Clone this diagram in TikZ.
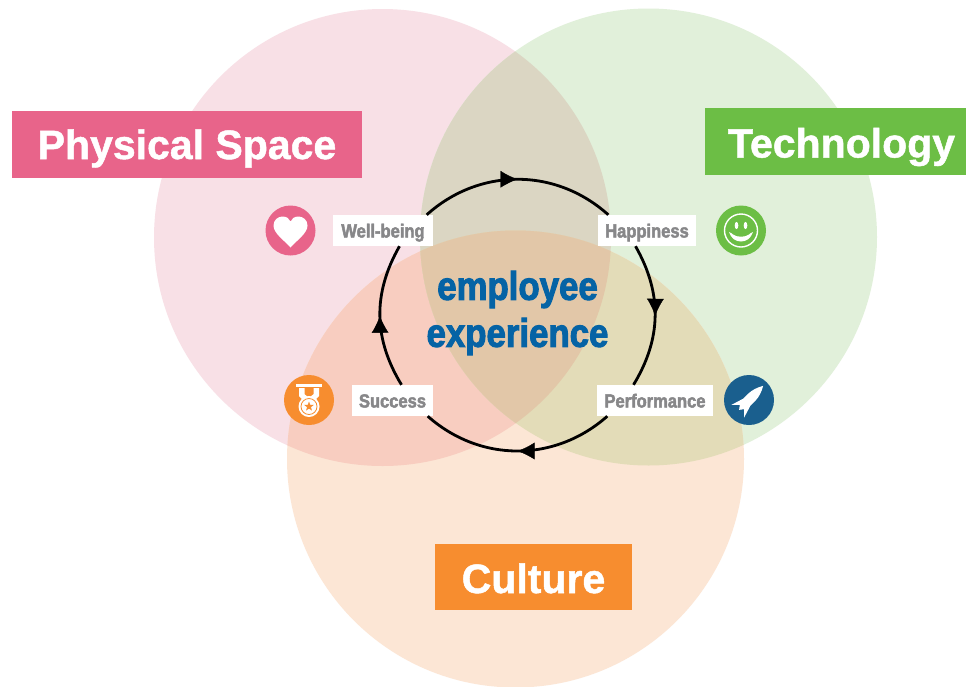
\documentclass[tikz,border=0pt]{standalone}
\usepackage{fontspec}
\usepackage{xcolor}
\setmainfont{Liberation Sans}
\newfontfamily\condfont[FakeStretch=0.87, BoldFeatures={FakeStretch=0.87, FakeBold=2.4}]{Liberation Sans}
\newfontfamily\heavyfont[BoldFeatures={FakeBold=1.2}]{Liberation Sans}
\definecolor{pinkbox}{RGB}{232, 100, 138}
\definecolor{greenbox}{RGB}{108, 190, 69}
\definecolor{orangebox}{RGB}{247, 141, 47}
\definecolor{pinkfill}{RGB}{248, 224, 230}
\definecolor{greenfill}{RGB}{225, 240, 218}
\definecolor{orangefill}{RGB}{252, 230, 213}
\definecolor{pinkgreen}{RGB}{219, 214, 195}
\definecolor{pinkorange}{RGB}{248, 205, 192}
\definecolor{greenorange}{RGB}{227, 220, 184}
\definecolor{centerfill}{RGB}{226, 199, 168}
\definecolor{rocketblue}{RGB}{26, 95, 142}
\definecolor{titleblue}{RGB}{5, 99, 165}
\definecolor{labelgray}{RGB}{135, 135, 137}
\usetikzlibrary{arrows.meta, positioning, decorations.markings, shapes.geometric}

\begin{document}
\begin{tikzpicture}[
        x=1pt, y=-1pt,
        venn/.style={circle, minimum size=457pt, inner sep=0pt},
        titlebox/.style={rectangle, inner sep=0pt, minimum height=66.5pt, text height=32pt, text depth=0pt, text=white, font=\heavyfont\fontsize{41}{41}\selectfont\bfseries},
        statelabel/.style={rectangle, fill=white, inner sep=0pt, minimum height=31pt, text height=14pt, text depth=0pt, text=labelgray, font=\condfont\fontsize{19}{19}\selectfont\bfseries},
        icon/.style={circle, minimum size=50pt, inner sep=0pt},
        ringarrow/.style={line width=2.8pt, decoration={markings, mark=at position #1 with {\arrow[line width=0.4pt]{Latex[length=17pt,width=17pt]}}}, postaction={decorate}}
    ]
        \useasboundingbox (0,0) rectangle (966,686);
        \fill[white] (0,0) rectangle (966,686);

        % Circles
        \node[venn, fill=pinkfill] (physical) at (382.5,237.5) {};
        \node[venn, fill=greenfill] (technology) at (648.5,237) {};
        \node[venn, fill=orangefill] (culture) at (515.5,459) {};

        % Overlaps
        \begin{scope}
            \clip (382.5,237.5) circle (228.5);
            \fill[pinkorange] (515.5,459) circle (228.5);
            \fill[pinkgreen] (648.5,237) circle (228.5);
            \clip (648.5,237) circle (228.5);
            \fill[centerfill] (515.5,459) circle (228.5);
        \end{scope}
        \begin{scope}
            \clip (648.5,237) circle (228.5);
            \clip (515.5,459) circle (228.5);
            \fill[greenorange] (0,0) rectangle (966,686);
            \clip (382.5,237.5) circle (228.5);
            \fill[centerfill] (0,0) rectangle (966,686);
        \end{scope}

        % Titles
        \node[titlebox, text height=29pt, fill=pinkbox, minimum width=350pt] (physicaltitle) at (187,144.5) {Physical Space};
        \node[titlebox, fill=greenbox, minimum width=261pt] (technologytitle) at (835.5,141.5) {\hspace*{12pt}Technology};
        \node[titlebox, fill=orangebox, minimum width=197pt] (culturetitle) at (533.5,577) {Culture};

        % Labels
        \node[statelabel, minimum width=100pt] (wellbeing) at (383,230.5) {Well-being};
        \node[statelabel, minimum width=98pt] (happiness) at (647,230.5) {Happiness};
        \node[statelabel, minimum width=116pt] (performance) at (655,400.5) {Performance};
        \node[statelabel, minimum width=81pt] (success) at (392.5,400.5) {Success};

        % Ring
        \draw[ringarrow=0.5] ([xshift=-6.5pt]wellbeing.north east) to[bend left=42] ([xshift=10.5pt]happiness.north west);
        \draw[ringarrow=0.5] (happiness.south -| 635.5,0) to[bend left=30.5] (performance.north -| 633.5,0);
        \draw[ringarrow=0.5] ([xshift=10.5pt]performance.south west) to[bend left=41.5] ([xshift=-5.5pt]success.south east);
        \draw[ringarrow=0.5] (success.north -| 401.5,0) to[bend left=30.5] (wellbeing.south -| 399.5,0);

        \node[align=center, text=titleblue, font=\condfont\fontsize{40}{47}\selectfont\bfseries] (title) at (517.5,313) {employee\\experience};

        % Icons
        \node[icon, fill=pinkbox] (hearticon) at (290.5,230.5) {};
        \node[icon, fill=greenbox] (smileicon) at (741,230.5) {};
        \node[icon, fill=orangebox] (medalicon) at (309,400) {};
        \node[icon, fill=rocketblue] (rocketicon) at (749,400) {};

        \begin{scope}[shift={(hearticon.center)}]
            \fill[white] (0,17) .. controls (-6,10) and (-17,3) .. (-17,-5)
                .. controls (-17,-11) and (-12,-14) .. (-8,-14)
                .. controls (-4,-14) and (-1,-12) .. (0,-9)
                .. controls (1,-12) and (4,-14) .. (8,-14)
                .. controls (12,-14) and (17,-11) .. (17,-5)
                .. controls (17,3) and (6,10) .. (0,17) -- cycle;
        \end{scope}

        \begin{scope}[shift={(smileicon.center)}]
            \draw[white, line width=1.4pt] (0,0) circle (16.5);
            \fill[white] (-4.5,-5) ellipse (1.8 and 3.6);
            \fill[white] (4.5,-5) ellipse (1.8 and 3.6);
            \fill[white] (-12,1.5) .. controls (-9,2.5) and (-9,3.5) .. (-8,4)
                .. controls (-4,7) and (4,7) .. (8,4)
                .. controls (9,3.5) and (9,2.5) .. (12,1.5)
                .. controls (10,8) and (5,11) .. (0,11)
                .. controls (-5,11) and (-10,8) .. (-12,1.5) -- cycle;
        \end{scope}

        \begin{scope}[shift={(medalicon.center)}]
            \fill[white] (-13,-16.5) rectangle (13,-13.5);
            \fill[white] (-10,-12) -- (10,-12) -- (10,-4) -- (4,2) -- (-4,2) -- (-10,-4) -- cycle;
            \fill[orangebox] (-4.5,-12) -- (4.5,-12) -- (4.5,-6) -- (0,-2.5) -- (-4.5,-6) -- cycle;
            \fill[white] (0,6.5) circle (10.5);
            \draw[orangebox, line width=0.8pt] (0,6.5) circle (8);
            \node[star, star points=5, star point ratio=2.4, fill=orangebox, minimum size=10pt, inner sep=0pt] (medalstar) at (0,6.5) {};
        \end{scope}

        \begin{scope}[shift={(rocketicon.center)}, rotate=45]
            \fill[white] (20,0) .. controls (15,-3) and (9,-5) .. (4,-5)
                -- (-3,-5) -- (-16,-9) -- (-10,-3) -- (-14,0) -- (-10,3) -- (-16,9)
                -- (-3,5) -- (4,5) .. controls (9,5) and (15,3) .. (20,0) -- cycle;
        \end{scope}
    \end{tikzpicture}
\end{document}
